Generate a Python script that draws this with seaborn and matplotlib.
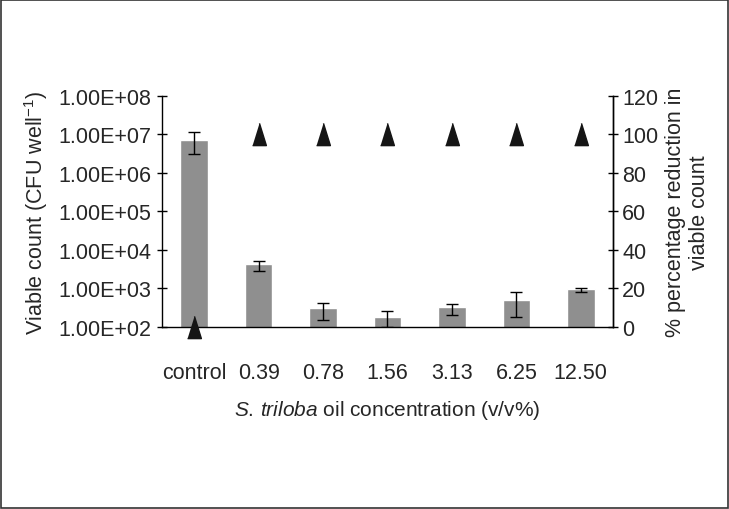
""" Viable count and percentage reduction vs S. triloba oil concentration.
    Bars on log axis (left), triangles for % reduction (right axis).
"""

import seaborn as sns
import matplotlib.pyplot as plt
import matplotlib.ticker as mticker
from matplotlib.patches import Rectangle
import pandas as pd
import numpy as np

# data
concentrations = ['control', '0.39', '0.78', '1.56', '3.13', '6.25', '12.50']
viable_count = [7.3e6, 4250, 306, 182, 325, 512, 953]
err_low = [4.2e6, 1450, 154, 82, 116, 327, 127]
err_high = [4.2e6, 840, 107, 78, 64, 283, 57]
reduction = [0, 100, 100, 100, 100, 100, 100]

bar_color = '#8f8f8f'
font = 'Liberation Sans'

sns.set_style('white')
plt.rcParams['font.family'] = [font, 'DejaVu Sans']
plt.rcParams['mathtext.fontset'] = 'custom'
plt.rcParams['mathtext.rm'] = font
plt.rcParams['mathtext.it'] = font + ':italic'
plt.rcParams['font.size'] = 15.5

df = pd.DataFrame({'conc': concentrations, 'count': viable_count})

fig = plt.figure(figsize=(7.29, 5.10), dpi=100)
ax = fig.add_axes([0.2222, 0.3569, 0.6187, 0.4529])
ax.set_yscale('log')

sns.barplot(data=df, x='conc', y='count', color=bar_color, width=0.43,
            errorbar=None, saturation=1, ax=ax)
x = np.arange(len(concentrations))
ax.errorbar(x, viable_count, yerr=[err_low, err_high], fmt='none',
            ecolor='black', elinewidth=1, capsize=4.5, capthick=1)

ax.set_ylim(1e2, 1e8)
ax.set_xlim(-0.5, len(concentrations) - 0.5)
ax.yaxis.set_major_locator(mticker.LogLocator(base=10, numticks=10))
ax.yaxis.set_minor_locator(mticker.NullLocator())
ax.yaxis.set_major_formatter(mticker.FuncFormatter(
    lambda v, p: '{:.2E}'.format(v)))

# ticks between categories, labels centered under the bars
ax.set_xticks(x + 0.5)
ax.set_xticklabels([''] * len(x))
ax.set_xticks(x, minor=True)
ax.set_xticklabels(concentrations, minor=True)
ax.tick_params(axis='x', which='major', direction='inout', length=11,
               width=1, color='black')
ax.tick_params(axis='x', which='minor', length=0, pad=25)
ax.tick_params(axis='y', direction='inout', length=7, width=1,
               color='black', left=True, pad=4)

for s in ['left', 'bottom', 'right']:
    ax.spines[s].set_color('black')
    ax.spines[s].set_linewidth(1)
ax.spines['top'].set_visible(False)

ax.set_xlabel(r'$\it{S.\,triloba}$ oil concentration (v/v%)',
              labelpad=11, fontsize=15)
ax.set_ylabel(r'Viable count (CFU well$^{-1}$)', labelpad=6)

# % reduction on the right axis
ax2 = ax.twinx()
tri = [(-0.62, -1), (0.62, -1), (0, 1)]
ax2.plot(x, reduction, linestyle='none', marker=tri, markersize=16,
         color='#151515', clip_on=False, zorder=5)
ax2.set_ylim(0, 120)
ax2.set_yticks(range(0, 121, 20))
ax2.tick_params(axis='y', direction='inout', length=7, width=1,
                color='black', right=True, pad=3)
for s in ['left', 'bottom', 'top']:
    ax2.spines[s].set_visible(False)
ax2.spines['right'].set_color('black')
ax2.spines['right'].set_linewidth(1)
ax2.set_ylabel('% percentage reduction in\nviable count', rotation=90,
               ha='center', va='center', multialignment='center')
ax2.yaxis.set_label_coords(1.165, 0.5)
ax2.grid(False)
ax.grid(False)

# frame around the whole picture
fig.patches.append(Rectangle((0.002, 0.002), 0.996, 0.996, transform=fig.transFigure,
                             fill=False, edgecolor='#333333', linewidth=1.2))

plt.savefig('out.png', dpi=100)
plt.close()
